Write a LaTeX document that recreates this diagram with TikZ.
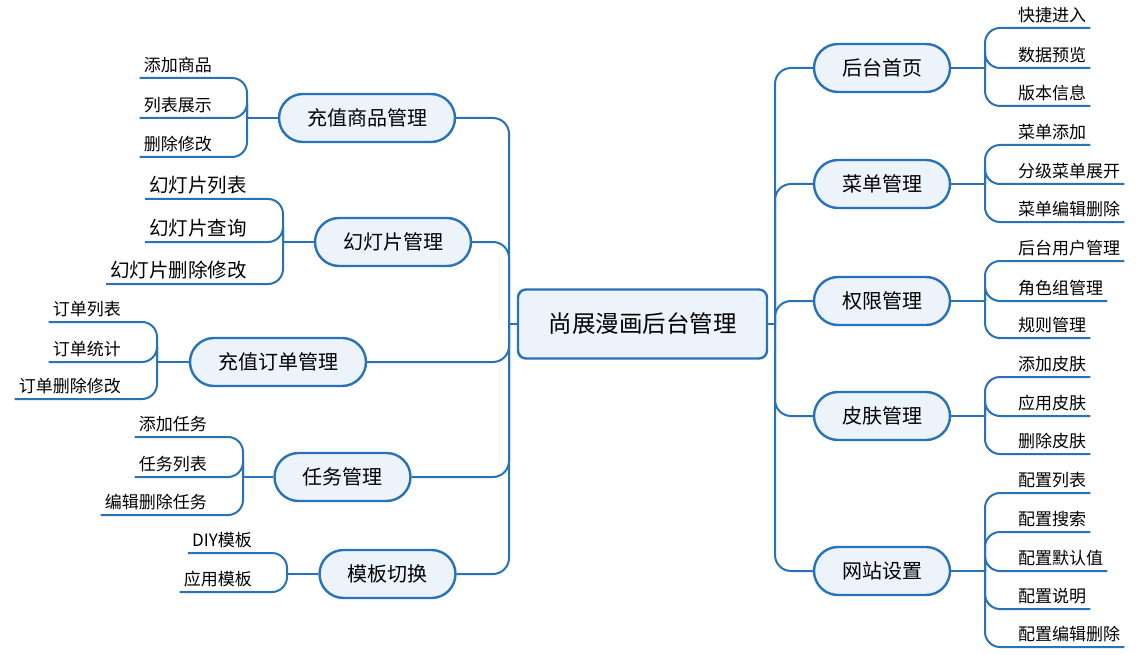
\documentclass[tikz,border=0pt]{standalone}
\usepackage{fontspec}
\newfontfamily\cjk{Noto Sans CJK SC}
\definecolor{mapblue}{RGB}{40,114,184}
\definecolor{mapfill}{RGB}{236,243,250}
\tikzset{
  link/.style={draw=mapblue,line width=2pt,rounded corners=16pt},
  root/.style={draw=mapblue,line width=2.4pt,fill=mapfill,rounded corners=8pt,
    minimum width=249pt,minimum height=69pt,font=\cjk\fontsize{23.5}{28}\selectfont},
  topic/.style={draw=mapblue,line width=2.4pt,fill=mapfill,rounded corners=24pt,
    minimum height=48pt,inner xsep=28pt,font=\cjk\fontsize{20}{24}\selectfont},
  leafr/.style={anchor=south west,inner xsep=4pt,inner ysep=5pt,text depth=1pt,
    font=\cjk\fontsize{17}{20}\selectfont},
  leafl/.style={leafr,anchor=south east},
}
\begin{document}
\begin{tikzpicture}[x=1pt,y=-1pt]
  \useasboundingbox (0,0) rectangle (1140,655);
  \node[root] (root) at (642.5,324) {尚展漫画后台管理};
  \coordinate (lt) at (509,324);
  \coordinate (rt) at (775,324);
  \draw[link] (root.west) -- (lt);
  \draw[link] (root.east) -- (rt);

  \node[topic] (shop) at (367,118) {充值商品管理};
  \node[topic] (slide) at (393,242) {幻灯片管理};
  \node[topic] (order) at (278,362) {充值订单管理};
  \node[topic] (task) at (342.5,477) {任务管理};
  \node[topic] (tpl) at (387.5,574) {模板切换};
  \foreach \t in {shop,slide,order,task,tpl}
    \draw[link] (lt) |- (\t.east);

  \node[topic] (home) at (882,68) {后台首页};
  \node[topic] (menu) at (882,184) {菜单管理};
  \node[topic] (auth) at (882,301) {权限管理};
  \node[topic] (skin) at (882,416) {皮肤管理};
  \node[topic] (site) at (882,571) {网站设置};
  \foreach \t in {home,menu,auth,skin,site}
    \draw[link] (rt) |- (\t.west);

  \coordinate (shopj) at (247,118);
  \draw[link] (shop.west) -- (shopj);
  \foreach \n/\s/\y in {1/添加商品/78,2/列表展示/118,3/删除修改/157}{
    \node[leafl] (shop\n) at (216,\y) {\s};
    \draw[link,rounded corners=15pt] (shopj) |- (shop\n.south east) -- (shop\n.south west);
  }
  \coordinate (slidej) at (283,242);
  \draw[link] (slide.west) -- (slidej);
  \foreach \n/\s/\y in {1/幻灯片列表/199,2/幻灯片查询/242,3/幻灯片删除修改/284}{
    \node[leafl,font=\cjk\fontsize{19.5}{23}\selectfont] (slide\n) at (251,\y) {\s};
    \draw[link,rounded corners=15pt] (slidej) |- (slide\n.south east) -- (slide\n.south west);
  }
  \coordinate (orderj) at (157,362);
  \draw[link] (order.west) -- (orderj);
  \foreach \n/\s/\y in {1/订单列表/322,2/订单统计/362,3/订单删除修改/399}{
    \node[leafl] (order\n) at (125,\y) {\s};
    \draw[link,rounded corners=15pt] (orderj) |- (order\n.south east) -- (order\n.south west);
  }
  \coordinate (taskj) at (243,477);
  \draw[link] (task.west) -- (taskj);
  \foreach \n/\s/\y in {1/添加任务/437,2/任务列表/477,3/编辑删除任务/515}{
    \node[leafl] (task\n) at (211,\y) {\s};
    \draw[link,rounded corners=15pt] (taskj) |- (task\n.south east) -- (task\n.south west);
  }
  \coordinate (tplj) at (287,574);
  \draw[link] (tpl.west) -- (tplj);
  \foreach \n/\s/\y in {1/DIY模板/553,2/应用模板/592}{
    \node[leafl] (tpl\n) at (256,\y) {\s};
    \draw[link,rounded corners=15pt] (tplj) |- (tpl\n.south east) -- (tpl\n.south west);
  }

  \coordinate (homej) at (985,68);
  \draw[link] (home.east) -- (homej);
  \foreach \n/\s/\y in {1/快捷进入/28,2/数据预览/68,3/版本信息/106}{
    \node[leafr] (home\n) at (1014,\y) {\s};
    \draw[link,rounded corners=15pt] (homej) |- (home\n.south west) -- (home\n.south east);
  }
  \coordinate (menuj) at (985,184);
  \draw[link] (menu.east) -- (menuj);
  \foreach \n/\s/\y in {1/菜单添加/145,2/分级菜单展开/184,3/菜单编辑删除/222}{
    \node[leafr] (menu\n) at (1014,\y) {\s};
    \draw[link,rounded corners=15pt] (menuj) |- (menu\n.south west) -- (menu\n.south east);
  }
  \coordinate (authj) at (985,301);
  \draw[link] (auth.east) -- (authj);
  \foreach \n/\s/\y in {1/后台用户管理/261,2/角色组管理/301,3/规则管理/338}{
    \node[leafr] (auth\n) at (1014,\y) {\s};
    \draw[link,rounded corners=15pt] (authj) |- (auth\n.south west) -- (auth\n.south east);
  }
  \coordinate (skinj) at (985,416);
  \draw[link] (skin.east) -- (skinj);
  \foreach \n/\s/\y in {1/添加皮肤/377,2/应用皮肤/416,3/删除皮肤/454}{
    \node[leafr] (skin\n) at (1014,\y) {\s};
    \draw[link,rounded corners=15pt] (skinj) |- (skin\n.south west) -- (skin\n.south east);
  }
  \coordinate (sitej) at (985,571);
  \draw[link] (site.east) -- (sitej);
  \foreach \n/\s/\y in {1/配置列表/493,2/配置搜索/532,3/配置默认值/571,4/配置说明/609,5/配置编辑删除/647}{
    \node[leafr] (site\n) at (1014,\y) {\s};
    \draw[link,rounded corners=15pt] (sitej) |- (site\n.south west) -- (site\n.south east);
  }
\end{tikzpicture}
\end{document}
